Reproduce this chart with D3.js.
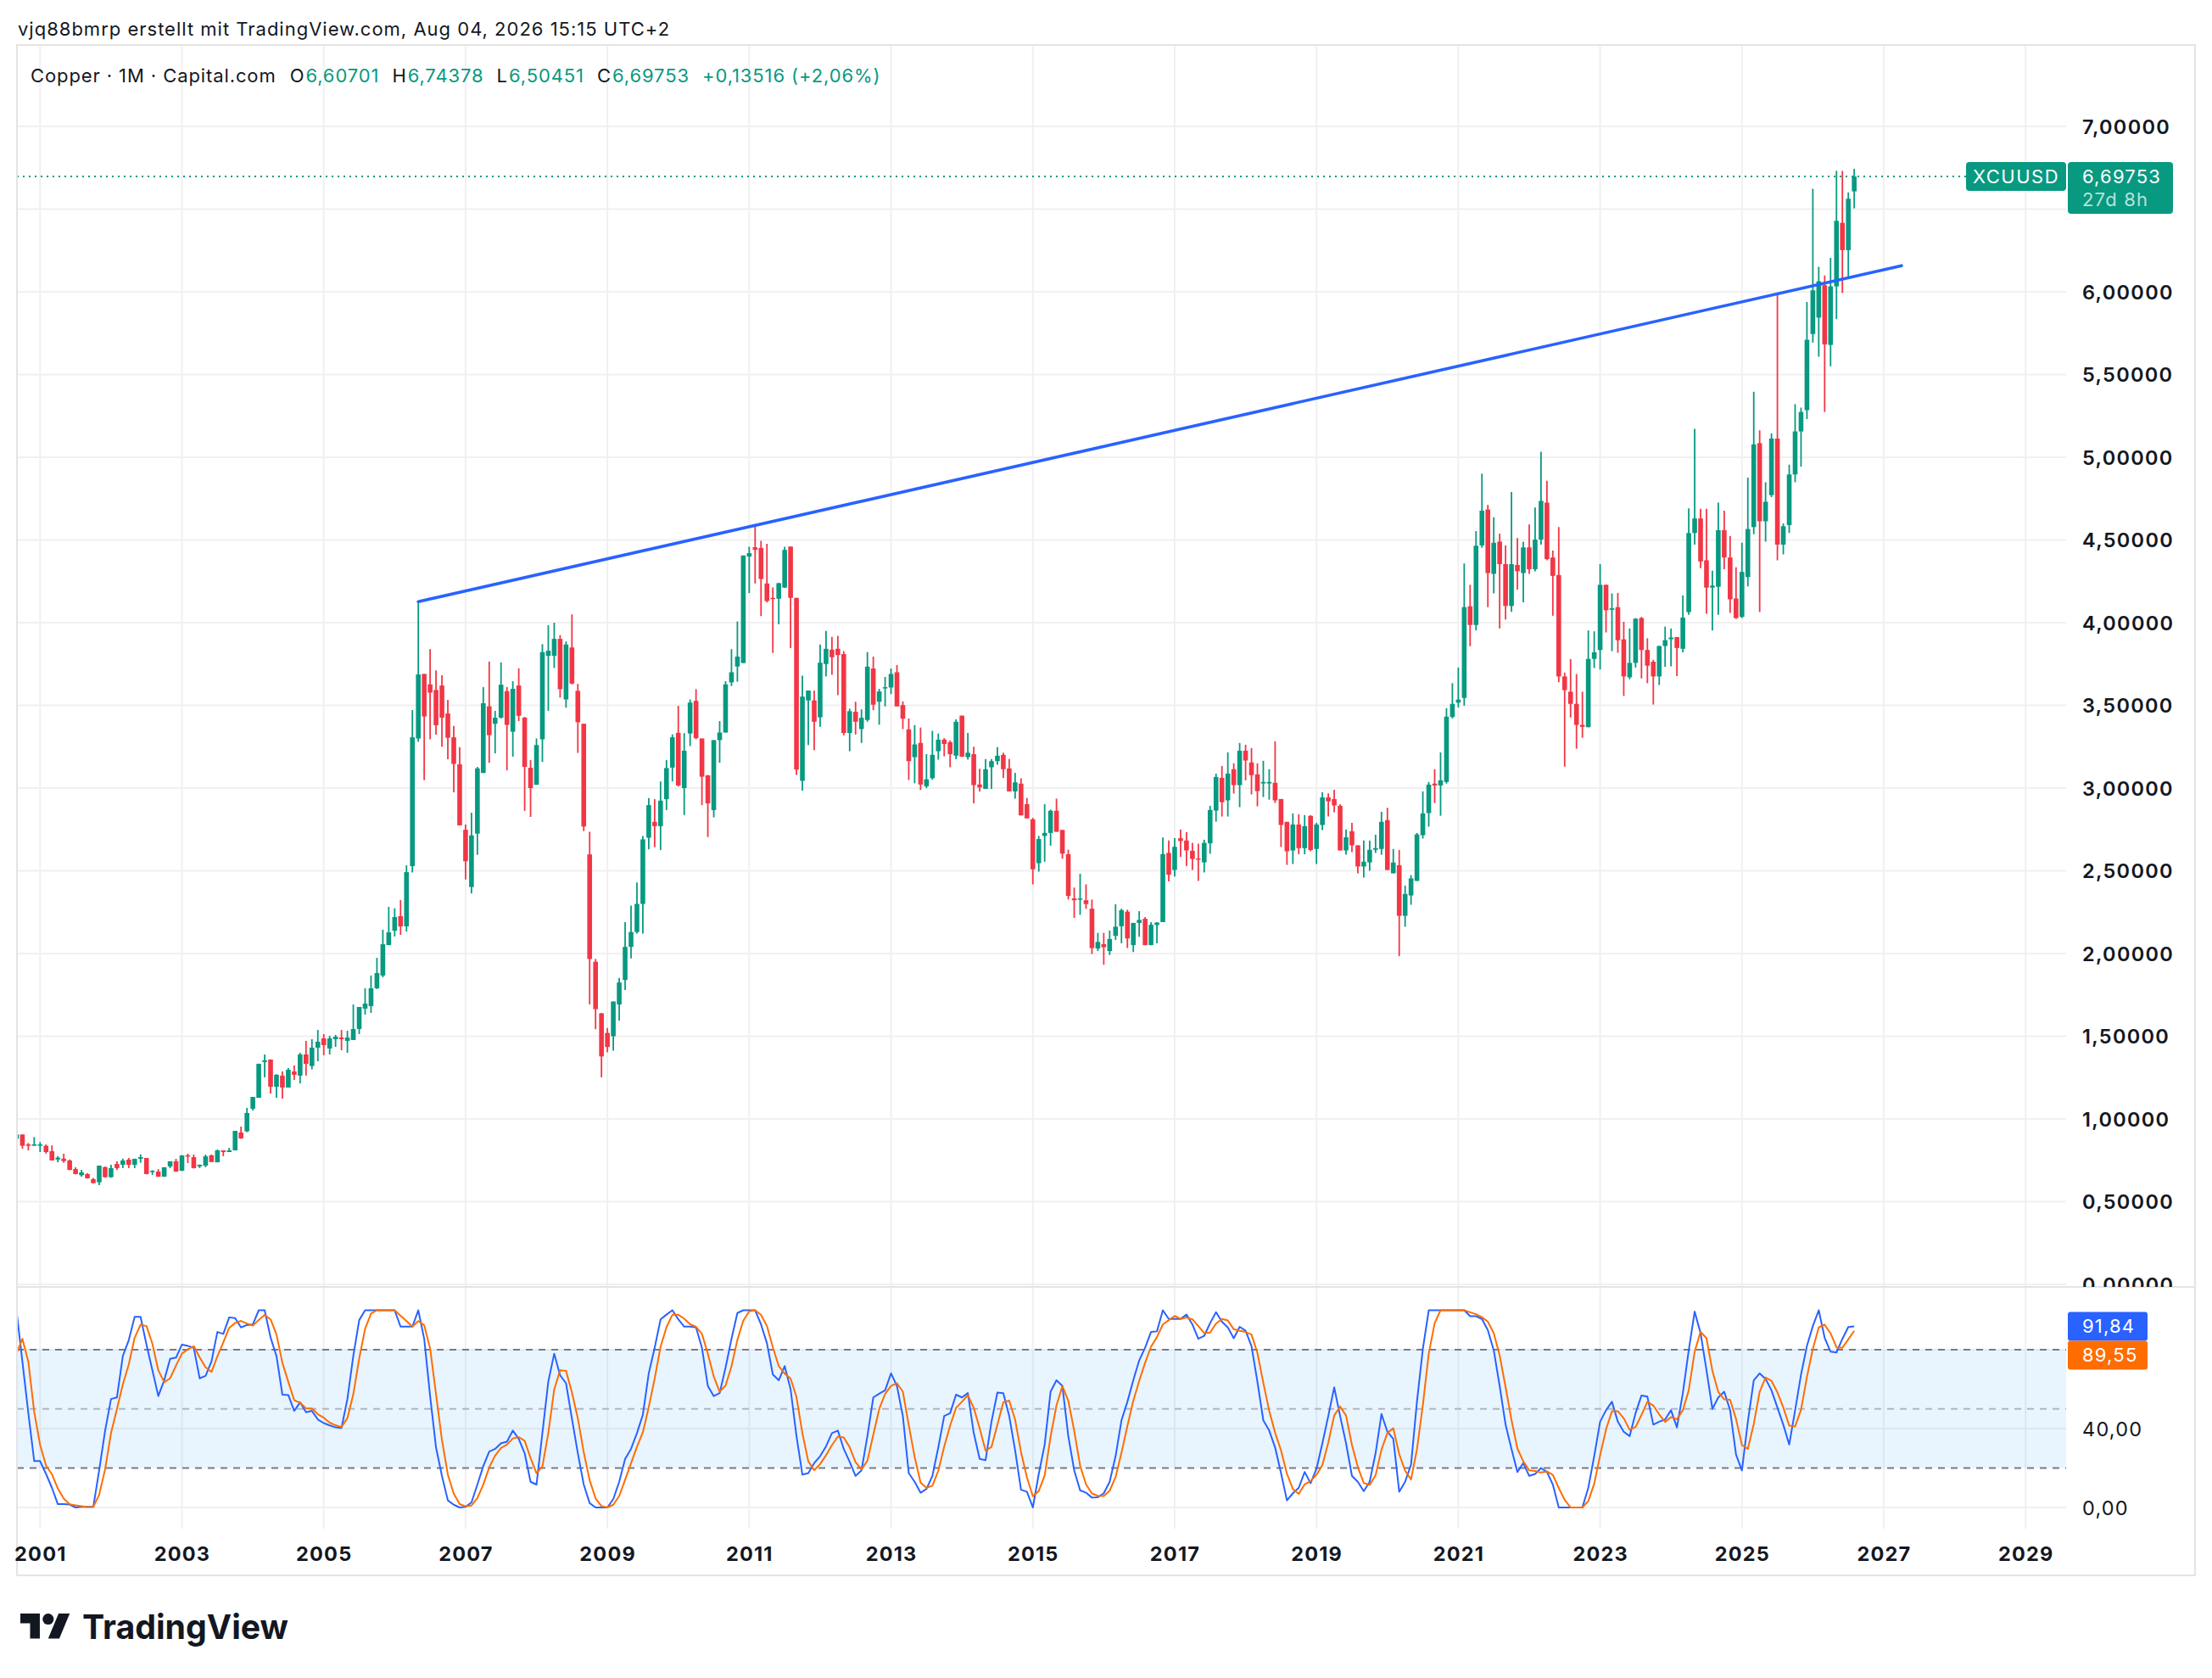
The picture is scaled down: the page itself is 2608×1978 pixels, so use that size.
<!DOCTYPE html>
<html>
<head>
<meta charset="utf-8">
<script src="https://cdn.jsdelivr.net/npm/d3@7"></script>
<style>
  body { margin: 0; background: #ffffff; }
  svg { display: block; }
  text { font-family: Inter, "Noto Sans", "DejaVu Sans", sans-serif; }
</style>
</head>
<body>
<svg id="chart" width="2608" height="1978"></svg>
<script>
// ---- data (monthly candles, Copper / Capital.com) ----
const firstMonth = "2000-09";
const symbol = "XCUUSD";
const title = "Copper · 1M · Capital.com";
const snapshotLine = "vjq88bmrp erstellt mit TradingView.com, Aug 04, 2026 15:15 UTC+2";
const countdown = "27d 8h";

// [open, high, low, close]
const candles = [
  // 2000 Sep-Dec
  [0.88,0.92,0.87,0.906],[0.906,0.906,0.82,0.838],[0.846,0.855,0.81,0.838],[0.838,0.89,0.838,0.846],
  // 2001
  [0.838,0.86,0.80,0.846],[0.838,0.846,0.79,0.80],[0.805,0.84,0.749,0.749],[0.755,0.776,0.738,0.766],[0.76,0.79,0.735,0.745],[0.749,0.755,0.69,0.692],
  [0.697,0.708,0.665,0.667],[0.66,0.692,0.651,0.677],[0.667,0.672,0.64,0.641],[0.636,0.643,0.61,0.612],[0.617,0.718,0.60,0.718],[0.709,0.713,0.645,0.648],
  // 2002
  [0.648,0.723,0.645,0.703],[0.728,0.744,0.692,0.703],[0.723,0.76,0.703,0.749],[0.754,0.764,0.703,0.723],[0.723,0.76,0.703,0.759],[0.759,0.786,0.735,0.769],
  [0.764,0.764,0.665,0.667],[0.68,0.69,0.662,0.687],[0.682,0.697,0.65,0.651],[0.651,0.708,0.65,0.708],[0.713,0.744,0.703,0.744],[0.744,0.759,0.68,0.682],
  // 2003
  [0.687,0.782,0.685,0.779],[0.78,0.79,0.733,0.774],[0.769,0.785,0.70,0.703],[0.713,0.725,0.703,0.723],[0.718,0.785,0.708,0.774],[0.78,0.785,0.738,0.74],
  [0.738,0.815,0.738,0.81],[0.81,0.81,0.775,0.80],[0.80,0.825,0.80,0.81],[0.81,0.928,0.81,0.928],[0.918,0.954,0.88,0.882],[0.925,1.067,0.92,1.036],
  // 2004
  [1.062,1.133,1.051,1.133],[1.128,1.335,1.128,1.333],[1.344,1.39,1.251,1.354],[1.359,1.36,1.154,1.195],[1.195,1.27,1.128,1.267],[1.262,1.287,1.123,1.19],
  [1.19,1.308,1.19,1.297],[1.287,1.323,1.236,1.267],[1.262,1.40,1.215,1.39],[1.39,1.472,1.262,1.333],[1.32,1.482,1.30,1.431],[1.431,1.538,1.349,1.467],
  // 2005
  [1.487,1.513,1.385,1.446],[1.426,1.503,1.39,1.487],[1.482,1.508,1.436,1.497],[1.492,1.538,1.415,1.482],[1.472,1.533,1.40,1.492],[1.477,1.692,1.477,1.544],
  [1.544,1.677,1.513,1.677],[1.667,1.79,1.631,1.697],[1.682,1.867,1.641,1.79],[1.79,1.974,1.785,1.882],[1.867,2.144,1.856,2.056],[2.051,2.282,2.051,2.128],
  // 2006
  [2.138,2.273,2.103,2.221],[2.226,2.323,2.113,2.164],[2.164,2.533,2.133,2.492],[2.528,3.472,2.49,3.307],[3.30,4.127,3.28,3.687],[3.69,3.69,3.048,3.433],
  [3.627,3.84,3.295,3.577],[3.593,3.712,3.323,3.38],[3.62,3.682,3.25,3.426],[3.451,3.533,3.174,3.304],[3.307,3.376,2.975,3.146],[3.144,3.247,2.775,2.775],
  // 2007
  [2.748,2.78,2.448,2.558],[2.402,2.851,2.363,2.714],[2.725,3.128,2.597,3.119],[3.092,3.611,3.09,3.513],[3.494,3.765,3.153,3.32],[3.389,3.467,3.21,3.425],
  [3.426,3.76,3.42,3.625],[3.586,3.611,3.107,3.382],[3.341,3.646,3.19,3.6],[3.62,3.724,3.405,3.437],[3.426,3.43,2.862,3.128],[3.123,3.17,2.826,3.0],
  // 2008
  [3.02,3.30,3.02,3.26],[3.295,3.87,3.158,3.822],[3.80,3.985,3.467,3.83],[3.80,4.0,3.726,3.902],[3.902,3.925,3.547,3.598],[3.536,3.886,3.486,3.868],
  [3.85,4.05,3.627,3.632],[3.588,3.63,3.213,3.398],[3.389,3.389,2.74,2.768],[2.599,2.736,1.692,1.967],[1.95,1.967,1.543,1.664],[1.639,1.64,1.252,1.378],
  // 2009
  [1.52,1.55,1.403,1.435],[1.50,1.71,1.413,1.71],[1.692,1.853,1.595,1.825],[1.84,2.19,1.78,2.04],[2.04,2.29,1.97,2.13],[2.13,2.43,2.12,2.30],
  [2.30,2.71,2.12,2.69],[2.70,2.94,2.63,2.897],[2.796,2.933,2.643,2.77],[2.77,3.04,2.626,2.924],[2.933,3.17,2.867,3.121],[3.124,3.325,3.04,3.307],
  // 2010
  [3.334,3.497,3.01,3.016],[3.0,3.332,2.837,3.226],[3.33,3.536,3.254,3.517],[3.527,3.598,3.295,3.302],[3.3,3.3,2.897,3.069],[3.077,3.08,2.704,2.908],
  [2.867,3.29,2.823,3.29],[3.29,3.405,3.153,3.336],[3.336,3.646,3.336,3.627],[3.639,3.84,3.617,3.70],[3.735,4.007,3.643,3.795],[3.756,4.406,3.756,4.406],
  // 2011
  [4.40,4.459,4.179,4.42],[4.456,4.589,4.237,4.44],[4.452,4.495,4.04,4.264],[4.237,4.477,4.122,4.131],[4.15,4.213,3.817,4.143],[4.145,4.24,3.99,4.239],
  [4.212,4.459,4.21,4.44],[4.46,4.46,3.846,4.15],[4.15,4.15,3.08,3.112],[3.044,3.68,2.985,3.553],[3.53,3.59,3.26,3.59],[3.53,3.59,3.229,3.401],
  // 2012
  [3.428,3.868,3.37,3.758],[3.75,3.95,3.676,3.842],[3.837,3.914,3.685,3.791],[3.842,3.92,3.562,3.804],[3.81,3.828,3.319,3.333],[3.333,3.48,3.223,3.465],
  [3.461,3.522,3.324,3.401],[3.357,3.476,3.273,3.425],[3.412,3.822,3.401,3.734],[3.723,3.795,3.471,3.504],[3.522,3.6,3.383,3.584],[3.603,3.672,3.494,3.61],
  // 2013
  [3.608,3.723,3.568,3.69],[3.70,3.744,3.494,3.494],[3.502,3.524,3.357,3.42],[3.355,3.421,3.049,3.163],[3.187,3.381,3.029,3.264],[3.273,3.366,2.989,3.022],
  [3.011,3.205,3.0,3.053],[3.06,3.346,3.05,3.201],[3.223,3.33,3.172,3.293],[3.293,3.302,3.192,3.266],[3.278,3.288,3.126,3.205],[3.196,3.416,3.174,3.401],
  // 2014
  [3.438,3.438,3.188,3.19],[3.187,3.333,3.172,3.214],[3.205,3.25,2.908,3.018],[3.022,3.117,2.98,3.004],[2.995,3.176,2.995,3.114],[3.126,3.176,2.995,3.163],
  [3.163,3.247,3.141,3.196],[3.201,3.214,3.062,3.114],[3.119,3.176,2.98,2.98],[2.98,3.092,2.936,3.035],[3.027,3.059,2.835,2.835],[2.903,2.94,2.817,2.817],
  // 2015
  [2.811,2.82,2.418,2.509],[2.546,2.711,2.495,2.692],[2.711,2.903,2.555,2.729],[2.729,2.87,2.652,2.863],[2.863,2.936,2.736,2.736],[2.747,2.747,2.573,2.604],
  [2.6,2.628,2.326,2.348],[2.333,2.399,2.216,2.322],[2.326,2.482,2.234,2.333],[2.322,2.418,2.27,2.299],[2.271,2.326,1.997,2.033],[2.03,2.125,2.015,2.07],
  // 2016
  [2.057,2.125,1.932,2.038],[2.015,2.139,1.991,2.088],[2.107,2.298,2.082,2.162],[2.165,2.271,2.062,2.262],[2.253,2.265,2.033,2.091],[2.051,2.185,2.009,2.185],
  [2.185,2.256,2.101,2.203],[2.21,2.22,2.05,2.051],[2.051,2.19,2.05,2.174],[2.172,2.19,2.062,2.187],[2.19,2.701,2.19,2.601],[2.608,2.683,2.436,2.476],
  // 2017
  [2.505,2.697,2.466,2.645],[2.697,2.75,2.585,2.68],[2.683,2.734,2.529,2.623],[2.621,2.669,2.505,2.572],[2.575,2.664,2.439,2.568],[2.551,2.688,2.49,2.669],
  [2.666,2.893,2.603,2.868],[2.864,3.088,2.797,3.067],[3.062,3.134,2.828,2.915],[2.926,3.216,2.828,3.088],[3.114,3.15,2.967,3.018],[3.018,3.273,2.885,3.226],
  // 2018
  [3.226,3.262,3.047,3.167],[3.155,3.242,2.962,3.078],[3.083,3.15,2.89,2.982],[3.028,3.165,2.946,3.037],[3.028,3.114,2.93,3.037],[3.032,3.283,2.91,2.926],
  [2.934,2.934,2.644,2.777],[2.796,2.796,2.536,2.618],[2.623,2.847,2.541,2.78],[2.78,2.842,2.60,2.637],[2.637,2.837,2.60,2.77],[2.832,2.837,2.618,2.626],
  // 2019
  [2.632,2.79,2.541,2.78],[2.777,2.975,2.746,2.944],[2.944,2.968,2.828,2.92],[2.934,2.99,2.854,2.895],[2.893,2.903,2.623,2.623],[2.623,2.75,2.597,2.703],
  [2.739,2.79,2.613,2.654],[2.654,2.654,2.485,2.526],[2.526,2.683,2.459,2.555],[2.551,2.683,2.5,2.627],[2.627,2.718,2.608,2.637],[2.632,2.857,2.597,2.796],
  // 2020
  [2.806,2.881,2.505,2.505],[2.485,2.632,2.485,2.55],[2.534,2.626,1.984,2.228],[2.228,2.411,2.162,2.36],[2.351,2.474,2.295,2.454],[2.439,2.729,2.439,2.72],
  [2.715,2.98,2.695,2.847],[2.849,3.037,2.767,3.021],[3.027,3.114,2.91,3.016],[3.016,3.216,2.833,3.047],[3.037,3.483,3.027,3.432],[3.43,3.634,3.42,3.509],
  // 2021
  [3.517,3.729,3.488,3.535],[3.545,4.358,3.498,4.094],[4.099,4.229,3.858,3.986],[3.986,4.554,3.953,4.465],[4.467,4.901,4.453,4.677],[4.684,4.712,4.094,4.30],
  [4.295,4.637,4.177,4.483],[4.49,4.538,3.965,4.354],[4.354,4.467,4.019,4.101],[4.101,4.79,4.066,4.354],[4.349,4.512,4.2,4.311],[4.3,4.49,4.123,4.455],
  // 2022
  [4.455,4.594,4.295,4.323],[4.323,4.696,4.31,4.502],[4.502,5.033,4.472,4.736],[4.726,4.858,4.377,4.384],[4.394,4.436,4.042,4.283],[4.288,4.578,3.64,3.675],
  [3.675,3.698,3.13,3.592],[3.583,3.78,3.427,3.509],[3.509,3.689,3.238,3.382],[3.382,3.583,3.304,3.37],[3.368,3.953,3.368,3.781],[3.781,3.948,3.726,3.821],
  // 2023
  [3.835,4.354,3.717,4.229],[4.229,4.23,3.941,4.075],[4.078,4.177,3.828,4.087],[4.094,4.18,3.818,3.894],[3.899,4.005,3.557,3.675],[3.67,3.965,3.658,3.757],
  [3.757,4.028,3.729,4.024],[4.028,4.035,3.663,3.835],[3.835,3.906,3.634,3.74],[3.764,3.776,3.505,3.675],[3.675,3.86,3.623,3.859],[3.859,3.976,3.733,3.894],
  // 2024
  [3.90,3.965,3.736,3.91],[3.913,3.913,3.677,3.847],[3.842,4.165,3.821,4.031],[4.064,4.691,4.047,4.542],[4.542,5.172,4.472,4.63],[4.63,4.689,4.33,4.37],
  [4.377,4.689,4.054,4.212],[4.212,4.314,3.953,4.224],[4.217,4.726,4.047,4.559],[4.559,4.677,4.323,4.394],[4.394,4.524,4.059,4.141],[4.146,4.335,4.023,4.028],
  // 2025
  [4.035,4.483,4.028,4.307],[4.276,4.877,4.219,4.566],[4.578,5.396,4.535,5.078],[5.085,5.163,4.064,4.613],[4.613,4.849,4.49,4.731],[4.771,5.144,4.759,5.113],
  [5.113,5.988,4.377,4.472],[4.472,4.6,4.413,4.583],[4.59,4.955,4.542,4.896],[4.896,5.321,4.849,5.156],[5.156,5.3,4.943,5.274],[5.285,5.939,5.231,5.71],
  // 2026 Jan-Aug
  [5.745,6.623,5.693,6.009],[5.844,6.151,5.608,6.064],[6.04,6.099,5.274,5.682],[5.679,6.205,5.55,6.033],[6.033,6.731,5.835,6.429],[6.417,6.731,5.993,6.252],
  [6.252,6.601,6.087,6.56237],[6.60701,6.74378,6.50451,6.69753]
];

// Stochastic RSI pane: %K (blue) and %D (orange), one value per candle
const stochK = [
  100,74,48,23.5,
  23.5,17,10,1.7,1.7,1.5,0,0.3,0.3,0.3,19,39,
  55,55.8,76.8,84.8,96.7,96.7,82.6,69.6,56.5,64.5,75.4,76,
  82.6,81.9,81,65.5,66.7,74,89,88,96.4,96,91.3,92.5,
  92.8,100,100,86.2,76.8,57.2,57,49,53.3,48.3,49,44.6,
  42.8,41.6,40.6,40.3,55,76.8,95,100,100,100,100,100,
  100,91.7,91.7,91.7,100,85.5,56.5,30.4,16,3.6,1.4,0,
  0.3,2.6,11.6,21,28.3,29.7,32.6,33.3,39,34.8,27.5,13,
  11.6,37.7,63.8,78,67,63,45,27.5,11.6,2.2,0,0,
  0,4.3,13,24.6,29.7,37.7,47,68,81,95.4,97.8,100,
  95.4,91.7,91.7,91.3,81,61.6,56.5,58,71,85.5,98.6,100,
  100,100,92.8,83.3,67.4,64.5,71.7,60,36.2,16.7,17.4,22.5,
  26,31,37.7,39,29.7,23.2,16,18.8,36.2,55.8,57.7,59.4,
  68,61.6,46.4,17.4,13,7.5,9.4,16,30.4,46.4,47.8,57.2,
  55.8,58,37.7,24.6,24,43.5,58.3,58,46.4,29,9,8,
  0,17,31.9,58.7,64.5,61.6,36.2,18.8,8.7,7.5,5,5.2,
  7.2,13,26,44.2,53.6,64.5,74.6,81,89,89.3,100,95.6,
  95.6,95.6,97.8,92.8,85.5,87,93.5,99,94.2,91.3,85.8,91.6,
  89.6,81.9,63.8,44.2,39,30.4,17.4,3.6,7.2,10,18,12.3,
  19.6,32.6,46.4,60.9,46.4,32.6,16,13,8.3,13,27.5,47.4,
  38.4,34.8,8,13,21.7,53.6,80.4,100,100,100,100,100,
  100,100,97,97,95.6,89.9,79.7,61.6,42,29.7,18,22.5,
  16,17,20,18,11.6,0,0,0,0,0,10,26,
  43.5,49.3,53.6,43.5,38.4,36.2,47.8,56.8,56.2,42,43.5,44.6,
  49.3,40.6,58,79.7,99.3,88.4,69.6,50,55.8,58.7,49.3,26.8,
  18.8,43.5,64.5,68,65.2,59.4,50.7,42,31.9,49.3,67.4,81.9,
  92,100,86,79,78.6,85.5,91.5,91.84
];
const stochD = [
  78,85.5,74,48.5,
  31.7,21.3,16.8,9.6,4.5,1.6,1.1,0.6,0.2,0.3,6.5,19.4,
  37.7,49.9,62.5,72.5,86.1,92.7,92,83,69.6,63.5,65.5,72,
  78,80.2,81.8,76.1,71.1,68.7,76.6,83.7,91.1,93.5,94.6,93.3,
  92.2,95.1,97.6,95.4,87.7,73.4,63.7,54.4,53.1,50.2,50.2,47.3,
  45.5,43,41.7,40.8,45.3,57.4,75.6,90.6,98.3,100,100,100,
  100,97.2,94.5,91.7,94.5,92.4,80.7,57.5,34.3,16.7,7,1.7,
  0.6,1,4.8,11.7,20.3,26.3,30.2,31.9,35,35.7,33.8,25.1,
  17.4,20.8,37.7,59.8,69.6,69.3,58.3,45.2,28,13.8,4.6,0.7,
  0,1.4,5.8,14,22.4,30.7,38.1,50.9,65.3,81.5,91.4,97.7,
  97.7,95.7,92.9,91.6,88,78,66.4,58.7,61.8,71.5,85,94.7,
  99.5,100,97.6,92,81.2,71.7,67.9,65.4,56,37.6,23.4,18.9,
  22,26.5,31.6,35.9,35.5,30.6,23,19.3,23.7,36.9,49.9,57.6,
  61.7,63,58.7,41.8,25.6,12.6,10,11,18.6,30.9,41.5,50.5,
  53.6,57,50.5,40.1,28.8,30.7,41.9,53.3,54.2,44.5,28.1,15.3,
  5.7,8.3,16.3,35.9,51.7,61.6,54.1,38.9,21.2,11.7,7.1,5.9,
  5.8,8.5,15.4,27.7,41.3,54.1,64.2,73.4,81.5,86.4,92.8,95,
  97.1,95.6,96.3,95.4,92,88.4,88.7,93.2,95.6,94.8,90.4,89.6,
  89,87.7,78.4,63.3,49,37.9,28.9,17.1,9.4,6.9,11.7,13.4,
  16.6,21.5,32.9,46.6,51.2,46.6,31.7,20.5,12.4,11.4,16.3,29.3,
  37.8,40.2,27.1,18.6,14.2,29.4,51.9,78,93.5,100,100,100,
  100,100,99,98,96.5,94.2,88.4,77.1,61.1,44.4,29.9,23.4,
  18.8,18.5,17.7,18.3,16.5,9.9,3.9,0,0,0,3.3,12,
  26.5,39.6,48.8,48.8,45.2,39.4,40.8,46.9,53.6,51.7,47.2,43.4,
  45.8,44.8,49.3,59.4,79,89.1,85.8,69.3,58.5,54.8,54.6,44.9,
  31.6,29.7,42.3,58.7,65.9,64.2,58.4,50.7,41.5,41.1,49.5,66.2,
  80.4,91.3,92.7,88.3,81.2,81,85.2,89.55
];

// trend line drawn on the chart (anchored on the 2006 high)
const trendline = [
  { month: "2006-05", price: 4.127 },
  { month: "2027-04", price: 6.158 }
];

const yearTicks = [2001, 2003, 2005, 2007, 2009, 2011, 2013, 2015, 2017, 2019, 2021, 2023, 2025, 2027, 2029];
const priceTicks = [0, 0.5, 1, 1.5, 2, 2.5, 3, 3.5, 4, 4.5, 5, 5.5, 6, 6.5, 7];
const stochTicks = [0, 40, 80];
const stochBands = { upper: 80, middle: 50, lower: 20 };

// ---- layout ----
const W = 2608, H = 1978;
const frame = { left: 20, right: 2588, top: 53, bottom: 1857 };
const plotRight = 2436;
const paneSplit = 1517, stochBottom = 1802;

const UP = "#089981", DOWN = "#f23645", BLUE = "#2962ff", ORANGE = "#ff6d00";
const INK = "#131722", GRID = "#f0f0f0", BORDER = "#e4e4e4";

const monthIndex = s => { const [yy, mm] = s.split("-").map(Number); return (yy - 2001) * 12 + (mm - 1); };
const m0 = monthIndex(firstMonth);
const bars = candles.map((d, i) => ({ m: m0 + i, o: d[0], h: d[1], l: d[2], c: d[3] }));
const kPts = stochK.map((v, i) => ({ m: m0 + i, v }));
const dPts = stochD.map((v, i) => ({ m: m0 + i, v }));

const x = d3.scaleLinear().domain([0, 336]).range([47.3, 2388.2]);
const yP = d3.scaleLinear().domain([0, 7]).range([1514, 149]);
const yS = d3.scaleLinear().domain([0, 100]).range([1777, 1544.5]);

const comma = f => v => f(v).replace(".", ",");
const fmt5 = comma(d3.format(".5f"));
const fmt2 = comma(d3.format(".2f"));

const svg = d3.select("#chart");
svg.append("rect").attr("width", W).attr("height", H).attr("fill", "#fff");

const defs = svg.append("defs");
defs.append("clipPath").attr("id", "clipPrice").append("rect")
  .attr("x", frame.left).attr("y", frame.top).attr("width", plotRight - frame.left).attr("height", paneSplit - frame.top);
defs.append("clipPath").attr("id", "clipStoch").append("rect")
  .attr("x", frame.left).attr("y", paneSplit).attr("width", plotRight - frame.left).attr("height", stochBottom - paneSplit);
defs.append("clipPath").attr("id", "clipPriceAxis").append("rect")
  .attr("x", plotRight).attr("y", frame.top).attr("width", frame.right - plotRight).attr("height", paneSplit - frame.top);

// ---- grid ----
const grid = svg.append("g").attr("stroke", GRID).attr("stroke-width", 2);
grid.selectAll(".hp").data(priceTicks).join("line")
  .attr("x1", frame.left).attr("x2", plotRight).attr("y1", d => yP(d)).attr("y2", d => yP(d));
grid.selectAll(".hs").data(stochTicks).join("line")
  .attr("x1", frame.left).attr("x2", plotRight).attr("y1", d => yS(d)).attr("y2", d => yS(d));
grid.selectAll(".vy").data(yearTicks).join("line")
  .attr("x1", d => x((d - 2001) * 12)).attr("x2", d => x((d - 2001) * 12))
  .attr("y1", frame.top).attr("y2", stochBottom);

// ---- stochastic band ----
const band = svg.append("g");
band.append("rect")
  .attr("x", frame.left).attr("width", plotRight - frame.left)
  .attr("y", yS(stochBands.upper)).attr("height", yS(stochBands.lower) - yS(stochBands.upper))
  .attr("fill", "rgba(33,150,243,0.1)");
[["upper", "#787b86"], ["middle", "#b2b5be"], ["lower", "#787b86"]].forEach(([k, col]) => {
  band.append("line")
    .attr("x1", frame.left).attr("x2", plotRight)
    .attr("y1", yS(stochBands[k])).attr("y2", yS(stochBands[k]))
    .attr("stroke", col).attr("stroke-width", 2).attr("stroke-dasharray", "8,7");
});

// ---- candles ----
const cg = svg.append("g").attr("clip-path", "url(#clipPrice)");
const bodyW = 5.6;
cg.selectAll(".wick").data(bars).join("line")
  .attr("x1", d => x(d.m)).attr("x2", d => x(d.m))
  .attr("y1", d => yP(d.h)).attr("y2", d => yP(d.l))
  .attr("stroke", d => d.c >= d.o ? UP : DOWN).attr("stroke-width", 1.8);
cg.selectAll(".body").data(bars).join("rect")
  .attr("x", d => x(d.m) - bodyW / 2).attr("width", bodyW)
  .attr("y", d => yP(Math.max(d.o, d.c)))
  .attr("height", d => Math.max(1.5, Math.abs(yP(d.o) - yP(d.c))))
  .attr("fill", d => d.c >= d.o ? UP : DOWN);

// trend line
cg.append("path")
  .datum(trendline)
  .attr("d", d3.line().x(d => x(monthIndex(d.month))).y(d => yP(d.price)))
  .attr("fill", "none").attr("stroke", BLUE).attr("stroke-width", 3.6).attr("stroke-linecap", "round");

// last price dotted line
const last = bars[bars.length - 1];
const prev = bars[bars.length - 2];
const tagLeft = 2318;
const py = yP(last.c);
svg.append("line")
  .attr("x1", frame.left).attr("x2", tagLeft).attr("y1", py).attr("y2", py)
  .attr("stroke", UP).attr("stroke-width", 2).attr("stroke-dasharray", "2,5");

// ---- stochastic lines ----
const sg = svg.append("g").attr("clip-path", "url(#clipStoch)");
const sLine = d3.line().x(d => x(d.m)).y(d => yS(d.v));
sg.append("path").datum(kPts).attr("d", sLine).attr("fill", "none").attr("stroke", BLUE).attr("stroke-width", 2).attr("stroke-linejoin", "round");
sg.append("path").datum(dPts).attr("d", sLine).attr("fill", "none").attr("stroke", ORANGE).attr("stroke-width", 2).attr("stroke-linejoin", "round");

// ---- frame ----
const fr = svg.append("g").attr("stroke", BORDER).attr("stroke-width", 2).attr("fill", "none");
fr.append("rect").attr("x", frame.left).attr("y", frame.top).attr("width", frame.right - frame.left).attr("height", frame.bottom - frame.top);
fr.append("line").attr("x1", frame.left).attr("x2", frame.right).attr("y1", paneSplit).attr("y2", paneSplit);

// ---- value tags (positions needed to hide covered axis labels) ----
const tagTop = py - 17, tagBottom = py + 44;
const kLast = stochK[stochK.length - 1], dLast = stochD[stochD.length - 1];
const kTop = yS(kLast) - 17;
const dTop = Math.max(yS(dLast) - 17, kTop + 34);
const free = (yy, top, bottom) => yy < top - 12 || yy > bottom + 12;

// ---- axes ----
const styleAxis = g => {
  g.select(".domain").remove();
  g.selectAll("line").remove();
  g.attr("font-family", null).attr("font-size", null);
  g.selectAll("text").attr("fill", INK);
};
svg.append("g").attr("clip-path", "url(#clipPriceAxis)")
  .append("g").attr("transform", `translate(${plotRight},0)`)
  .call(d3.axisRight(yP).tickValues(priceTicks.filter(t => free(yP(t), tagTop, tagBottom)))
    .tickFormat(fmt5).tickSize(0).tickPadding(19))
  .call(styleAxis)
  .selectAll("text").attr("font-size", 23.5).attr("font-weight", 600).attr("letter-spacing", 1.3).attr("dy", "0.36em");

svg.append("g").attr("transform", `translate(${plotRight},0)`)
  .call(d3.axisRight(yS).tickValues(stochTicks.filter(t => free(yS(t), kTop, dTop + 34)))
    .tickFormat(fmt2).tickSize(0).tickPadding(19))
  .call(styleAxis)
  .selectAll("text").attr("font-size", 23.5).attr("font-weight", 400).attr("letter-spacing", 1.2).attr("dy", "0.36em");

svg.append("g").attr("transform", "translate(0,1832)")
  .call(d3.axisBottom(x).tickValues(yearTicks.map(yv => (yv - 2001) * 12)).tickFormat(i => String(2001 + i / 12)).tickSize(0).tickPadding(0))
  .call(styleAxis)
  .selectAll("text").attr("y", 0).attr("dy", "0.36em").attr("font-size", 23.5).attr("font-weight", 700).attr("letter-spacing", 1.2);

// ---- price tags ----
const tags = svg.append("g");
tags.append("rect").attr("x", tagLeft).attr("y", tagTop).attr("width", plotRight - tagLeft).attr("height", 34).attr("rx", 4).attr("fill", UP);
tags.append("text").attr("x", (tagLeft + plotRight) / 2).attr("y", py + 8).attr("text-anchor", "middle")
  .attr("fill", "#fff").attr("font-size", 22).attr("letter-spacing", 1.5).text(symbol);
tags.append("rect").attr("x", plotRight + 2).attr("y", tagTop).attr("width", 124).attr("height", 61).attr("rx", 4).attr("fill", UP);
tags.append("text").attr("x", 2455).attr("y", py + 8).attr("fill", "#fff").attr("font-size", 22).attr("letter-spacing", 1.2).text(fmt5(last.c));
tags.append("text").attr("x", 2455).attr("y", py + 35).attr("fill", "rgba(255,255,255,0.72)").attr("font-size", 22).attr("letter-spacing", 1.2).text(countdown);

tags.append("rect").attr("x", plotRight + 2).attr("y", kTop).attr("width", 94).attr("height", 34).attr("rx", 3).attr("fill", BLUE);
tags.append("text").attr("x", 2455).attr("y", kTop + 25).attr("fill", "#fff").attr("font-size", 22).attr("letter-spacing", 1.2).text(fmt2(kLast));
tags.append("rect").attr("x", plotRight + 2).attr("y", dTop).attr("width", 94).attr("height", 34).attr("rx", 3).attr("fill", ORANGE);
tags.append("text").attr("x", 2455).attr("y", dTop + 25).attr("fill", "#fff").attr("font-size", 22).attr("letter-spacing", 1.2).text(fmt2(dLast));

// ---- header + legend ----
svg.append("text").attr("x", 21).attr("y", 42).attr("fill", INK).attr("font-size", 22).attr("letter-spacing", 1)
  .text(snapshotLine);

const legend = svg.append("g").attr("font-size", 22).attr("letter-spacing", 0.9);
let lx = 36;
const put = (txt, col, gap) => {
  const t = legend.append("text").attr("x", lx).attr("y", 97).attr("fill", col).text(txt);
  lx += t.node().getComputedTextLength() + gap;
};
const chg = last.c - prev.c;
const sign = chg >= 0 ? "+" : "-";
const valCol = last.c >= last.o ? UP : DOWN;
put(title, INK, 16);
put("O", INK, 1); put(fmt5(last.o), valCol, 15);
put("H", INK, 1); put(fmt5(last.h), valCol, 15);
put("L", INK, 1); put(fmt5(last.l), valCol, 15);
put("C", INK, 1); put(fmt5(last.c), valCol, 15);
put(`${sign}${fmt5(Math.abs(chg))} (${sign}${fmt2(Math.abs(chg / prev.c * 100))}%)`, valCol, 0);

// ---- TradingView logo ----
const logo = svg.append("g").attr("fill", INK);
const icon = logo.append("g").attr("transform", "translate(24,1895.4) scale(1.64)");
icon.append("path").attr("d", "M14 22H7V11H0V4h14v18z");
icon.append("circle").attr("cx", 20).attr("cy", 8).attr("r", 4);
icon.append("path").attr("d", "M28 22h-8l7.5-18h8L28 22z");
logo.append("text").attr("x", 97).attr("y", 1932).attr("font-size", 40).attr("font-weight", 700)
  .attr("textLength", 243).attr("lengthAdjust", "spacingAndGlyphs").text("TradingView");
</script>
</body>
</html>
